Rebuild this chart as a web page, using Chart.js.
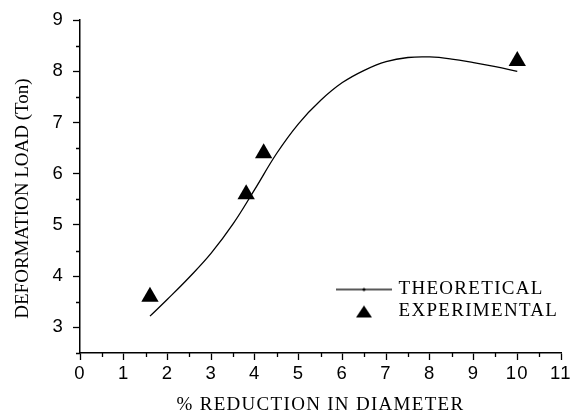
<!DOCTYPE html>
<html>
<head>
<meta charset="utf-8">
<script src="https://cdn.jsdelivr.net/npm/chart.js@4/dist/chart.umd.min.js"></script>
<style>
  html, body { margin: 0; padding: 0; background: #fff; }
</style>
</head>
<body>
<canvas id="chart1" width="577" height="416"></canvas>
<script>
(function () {
    'use strict'

    // theoretical curve
    var theoX = [1.6, 2.0, 2.5, 3.0, 3.5, 4.0, 4.5, 5.0, 5.5, 6.0, 6.5, 7.0, 7.5, 8.0, 8.5, 9.0, 9.5, 10.0];
    var theoY = [3.22, 3.55, 3.98, 4.45, 5.02, 5.70, 6.40, 6.98, 7.43, 7.78, 8.02, 8.19, 8.27, 8.28, 8.24, 8.17, 8.09, 8.0];
    // experimental points
    var expX = [1.6, 3.8, 4.2, 10];
    var expY = [3.6, 5.6, 6.4, 8.2];

    var seriesNames = ['THEORETICAL', 'EXPERIMENTAL'];
    var xTitle = '% REDUCTION IN DIAMETER';
    var yTitle = 'DEFORMATION LOAD (Ton)';
    var xRange = [0, 11];
    var yRange = [2.5, 9];

    var serif = "'Liberation Serif', 'Times New Roman', serif";
    var sans = "'Liberation Sans', Arial, sans-serif";

    function toPoints(xs, ys) {
        return xs.map(function (x, i) { return { x: x, y: ys[i] }; });
    }

    // little legend pictures
    function lineIcon() {
        var c = document.createElement('canvas');
        c.width = 56; c.height = 6;
        var g = c.getContext('2d');
        g.strokeStyle = '#222'; g.lineWidth = 1.3;
        g.beginPath(); g.moveTo(0, 3); g.lineTo(56, 3); g.stroke();
        g.fillStyle = '#000';
        g.beginPath(); g.arc(28, 3, 1.6, 0, Math.PI * 2); g.fill();
        return c;
    }
    function triIcon() {
        var c = document.createElement('canvas');
        c.width = 18; c.height = 14;
        var g = c.getContext('2d');
        g.fillStyle = '#000';
        g.beginPath(); g.moveTo(9, 1); g.lineTo(17, 13); g.lineTo(1, 13); g.closePath(); g.fill();
        return c;
    }
    var legendIcons = [lineIcon(), triIcon()];

    function isWhole(v) { return Math.abs(v - Math.round(v)) < 1e-6; }

    var chartFix = {
        id: 'chartFix',
        afterLayout: function (chart) {
            // put the legend inside the plot, lower right
            var lg = chart.legend, ca = chart.chartArea;
            lg.left = ca.left + 256;
            lg.right = lg.left + 230;
            lg.bottom = ca.bottom - 29;
            lg.top = lg.bottom - 60;

            // y title: no letter spacing, sits a bit lower
            var ys = chart.scales.y;
            if (!ys._plainTitle) {
                var orig = ys.drawTitle;
                ys.drawTitle = function () {
                    var ctx = this.ctx, ls = ctx.letterSpacing;
                    ctx.save();
                    ctx.letterSpacing = '0px';
                    ctx.translate(0, 12);
                    orig.call(this);
                    ctx.restore();
                    ctx.letterSpacing = ls;
                };
                ys._plainTitle = true;
            }
        },
        beforeDraw: function (chart) {
            chart.ctx.letterSpacing = '1.3px';
        },
        afterDraw: function (chart) {
            // minor ticks at half steps
            var ctx = chart.ctx, xs = chart.scales.x, ys = chart.scales.y, ca = chart.chartArea;
            ctx.save();
            ctx.strokeStyle = '#000';
            ctx.lineWidth = 1.3;
            ctx.beginPath();
            for (var v = xs.min + 0.5; v < xs.max; v += 1) {
                var px = Math.round(xs.getPixelForValue(v)) + 0.5;
                ctx.moveTo(px, ca.bottom);
                ctx.lineTo(px, ca.bottom + 4);
            }
            for (var w = ys.min; w < ys.max; w += 1) {
                var py = Math.round(ys.getPixelForValue(w)) + 0.5;
                ctx.moveTo(ca.left - 4, py);
                ctx.lineTo(ca.left, py);
            }
            ctx.stroke();
            ctx.restore();
        }
    };

    Chart.defaults.color = '#000';

    var ctx1 = document.getElementById('chart1').getContext('2d');
    var chart = new Chart(ctx1, {
        type: 'scatter',
        data: {
            datasets: [{
                label: seriesNames[0],
                data: toPoints(theoX, theoY),
                showLine: true,
                borderColor: '#000',
                borderWidth: 1.3,
                pointRadius: 0,
                tension: 0.4
            }, {
                label: seriesNames[1],
                data: toPoints(expX, expY),
                showLine: false,
                pointStyle: 'triangle',
                pointRadius: 10,
                backgroundColor: '#000',
                borderColor: '#000',
                borderWidth: 0
            }]
        },
        options: {
            responsive: false,
            animation: false,
            layout: { padding: { left: 0, right: 16, top: 16, bottom: 0 } },
            plugins: {
                tooltip: { enabled: false },
                legend: {
                    display: true,
                    position: 'chartArea',
                    align: 'end',
                    labels: {
                        usePointStyle: true,
                        pointStyleWidth: 50,
                        boxHeight: 13,
                        padding: 3,
                        textAlign: 'left',
                        color: '#000',
                        font: { family: serif, size: 19 },
                        generateLabels: function (chart) {
                            return chart.data.datasets.map(function (ds, i) {
                                return {
                                    text: ds.label,
                                    pointStyle: legendIcons[i],
                                    datasetIndex: i,
                                    fillStyle: '#000',
                                    strokeStyle: '#000',
                                    lineWidth: 1,
                                    hidden: false,
                                    textAlign: 'left'
                                };
                            });
                        }
                    }
                }
            },
            scales: {
                x: {
                    type: 'linear',
                    min: xRange[0],
                    max: xRange[1],
                    afterFit: function (s) { s.height = 63; },
                    border: { display: true, color: '#000', width: 1.5 },
                    grid: {
                        drawOnChartArea: false,
                        tickLength: 7,
                        tickWidth: 1.3,
                        tickColor: '#000'
                    },
                    ticks: {
                        stepSize: 1,
                        padding: 3,
                        maxRotation: 0,
                        font: { family: sans, size: 18.5 }
                    },
                    title: {
                        display: true,
                        text: xTitle,
                        font: { family: serif, size: 19 },
                        padding: { top: 0, bottom: 0 }
                    }
                },
                y: {
                    type: 'linear',
                    min: yRange[0],
                    max: yRange[1],
                    afterFit: function (s) { s.width = 80; },
                    border: { display: true, color: '#000', width: 1.5 },
                    grid: {
                        drawOnChartArea: false,
                        tickLength: 7,
                        tickWidth: 1.3,
                        tickColor: function (c) {
                            return c.tick && isWhole(c.tick.value) ? '#000' : 'rgba(0,0,0,0)';
                        }
                    },
                    ticks: {
                        stepSize: 1,
                        padding: 9,
                        font: { family: sans, size: 18.5 },
                        callback: function (v) { return isWhole(v) ? v : ''; }
                    },
                    title: {
                        display: true,
                        text: yTitle,
                        font: { family: serif, size: 19 },
                        padding: { top: 12, bottom: 0 }
                    }
                }
            }
        },
        plugins: [chartFix]
    });
})();
</script>
</body>
</html>
